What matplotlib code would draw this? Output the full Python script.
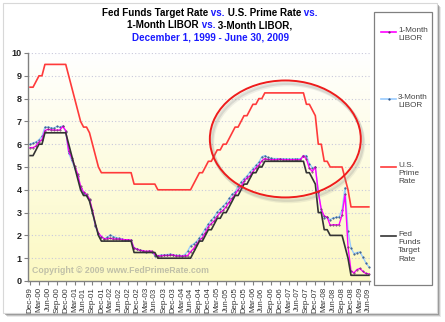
import numpy as np
import matplotlib
matplotlib.use("Agg")
from matplotlib import pyplot as plt
from matplotlib.patches import Ellipse, Rectangle
from matplotlib.lines import Line2D

plt.rcParams['font.family'] = ['Liberation Sans', 'DejaVu Sans']

# monthly, Dec-99 .. Jun-09
months = []
for yr in range(1999, 2010):
    for m in ['Jan', 'Feb', 'Mar', 'Apr', 'May', 'Jun', 'Jul', 'Aug', 'Sep', 'Oct', 'Nov', 'Dec']:
        months.append(m + '-' + str(yr)[2:])
months = months[11:11 + 115]
tick_labels = months[::3]

fed_funds = [
    5.5, 5.5, 5.75, 6.0, 6.0, 6.5, 6.5, 6.5, 6.5, 6.5, 6.5, 6.5, 6.5,
    6.0, 5.5, 5.0, 4.5, 4.0, 3.75, 3.75, 3.5, 3.0, 2.5, 2.0, 1.75,
    1.75, 1.75, 1.75, 1.75, 1.75, 1.75, 1.75, 1.75, 1.75, 1.75, 1.25, 1.25,
    1.25, 1.25, 1.25, 1.25, 1.25, 1.25, 1.0, 1.0, 1.0, 1.0, 1.0, 1.0,
    1.0, 1.0, 1.0, 1.0, 1.0, 1.0, 1.25, 1.5, 1.75, 1.75, 2.0, 2.25,
    2.25, 2.5, 2.75, 2.75, 3.0, 3.0, 3.25, 3.5, 3.75, 3.75, 4.0, 4.25,
    4.25, 4.5, 4.75, 4.75, 5.0, 5.0, 5.25, 5.25, 5.25, 5.25, 5.25, 5.25,
    5.25, 5.25, 5.25, 5.25, 5.25, 5.25, 5.25, 5.25, 4.75, 4.75, 4.5, 4.25,
    3.0, 3.0, 2.25, 2.25, 2.0, 2.0, 2.0, 2.0, 2.0, 1.5, 1.0, 0.25,
    0.25, 0.25, 0.25, 0.25, 0.25, 0.25,
]
prime_rate = [v + 3.0 for v in fed_funds]

libor_1m = [
    5.85, 5.85, 5.92, 6.1, 6.2, 6.6, 6.65, 6.63, 6.62, 6.62, 6.62, 6.78, 6.6,
    5.7, 5.4, 5.05, 4.7, 4.15, 3.9, 3.8, 3.6, 3.1, 2.45, 2.1, 1.95,
    1.85, 1.85, 1.88, 1.84, 1.84, 1.84, 1.82, 1.81, 1.81, 1.79, 1.43, 1.40,
    1.34, 1.33, 1.30, 1.31, 1.31, 1.16, 1.10, 1.10, 1.12, 1.12, 1.12, 1.15,
    1.10, 1.10, 1.09, 1.10, 1.11, 1.28, 1.42, 1.60, 1.78, 1.90, 2.12, 2.38,
    2.52, 2.64, 2.84, 3.01, 3.10, 3.26, 3.45, 3.63, 3.80, 4.00, 4.15, 4.37,
    4.52, 4.61, 4.80, 4.96, 5.08, 5.27, 5.37, 5.33, 5.32, 5.32, 5.32, 5.35,
    5.32, 5.32, 5.32, 5.32, 5.32, 5.32, 5.32, 5.50, 5.35, 4.95, 4.80, 5.00,
    3.90, 3.14, 2.85, 2.80, 2.44, 2.47, 2.46, 2.47, 2.90, 3.80, 1.50, 0.45,
    0.35, 0.50, 0.55, 0.42, 0.33, 0.31,
]
libor_3m = [
    6.0, 6.05, 6.1, 6.2, 6.35, 6.75, 6.75, 6.72, 6.7, 6.78, 6.75, 6.8, 6.55,
    5.6, 5.3, 4.95, 4.6, 4.1, 3.85, 3.75, 3.55, 3.0, 2.4, 2.05, 1.95,
    1.85, 1.92, 2.02, 1.95, 1.90, 1.87, 1.84, 1.80, 1.80, 1.78, 1.45, 1.40,
    1.35, 1.33, 1.28, 1.30, 1.28, 1.10, 1.11, 1.14, 1.14, 1.16, 1.17, 1.16,
    1.12, 1.12, 1.11, 1.15, 1.30, 1.55, 1.62, 1.73, 1.90, 2.08, 2.30, 2.50,
    2.66, 2.82, 3.02, 3.15, 3.28, 3.43, 3.62, 3.80, 3.90, 4.16, 4.33, 4.49,
    4.60, 4.78, 4.92, 5.07, 5.21, 5.45, 5.50, 5.42, 5.38, 5.37, 5.37, 5.36,
    5.36, 5.36, 5.35, 5.35, 5.36, 5.36, 5.36, 5.50, 5.50, 5.15, 4.96, 5.00,
    3.90, 3.09, 2.78, 2.79, 2.69, 2.77, 2.79, 2.81, 3.12, 4.10, 2.20, 1.45,
    1.20, 1.25, 1.27, 1.05, 0.80, 0.62,
]

W, H = 445, 322
fig = plt.figure(figsize=(W / 100, H / 100), dpi=100)
fig.patch.set_facecolor('white')


def fx(x):
    return x / W


def fy(y):
    return 1 - y / H


# page panel with a soft drop shadow (behind the axes)
for off, a in [(4, 0.15), (3, 0.3), (2, 0.5)]:
    fig.add_artist(Rectangle((fx(3 + off), fy(313 + off)), fx(434), 310 / H,
                             transform=fig.transFigure, facecolor='#707070',
                             edgecolor='none', alpha=a, zorder=-10))
fig.add_artist(Rectangle((fx(3), fy(313)), fx(434), 310 / H, transform=fig.transFigure,
                         facecolor='white', edgecolor='#d8d8d8', lw=0.8, zorder=-9))

ax = fig.add_axes([fx(28), fy(281), fx(342), 228 / H])
ax.set_facecolor('none')
x = np.arange(len(fed_funds))

# white-to-yellow background
grad = np.linspace(0, 1, 256)[:, None]
top = np.array([1.0, 1.0, 1.0])
bot = np.array([0xfc, 0xf9, 0xc2]) / 255
img = top + (bot - top) * grad[..., None]
ax.imshow(img, extent=[-0.7, 114.4, 0, 10], aspect='auto', origin='upper', zorder=0)

for g in range(1, 11):
    ax.axhline(g, color='#c9c9dc', lw=0.8, ls=(0, (1, 2)), zorder=1)

ax.plot(x, libor_3m, color='#99ccff', lw=1.0, marker='.', ms=1.0,
        mfc='#2a4a7a', mec='#2a4a7a', zorder=3)
ax.plot(x, libor_1m, color='#ff00ff', lw=1.0, marker='.', ms=0.8,
        mfc='#5a2a5a', mec='#5a2a5a', zorder=4)
ax.plot(x, prime_rate, color='#ff3a3a', lw=1.2, zorder=5)
ax.plot(x, fed_funds, color='#333333', lw=1.2, zorder=6)

# highlight ring around the 2004-2007 rate hikes
for dx, dy, a in [(0.9, -0.18, 0.12), (0.6, -0.12, 0.2)]:
    ax.add_patch(Ellipse((85.9 + dx, 6.23 + dy), 50.8, 5.13, fill=False,
                         edgecolor='#808080', lw=2.5, alpha=a, zorder=7, clip_on=False))
ax.add_patch(Ellipse((85.9, 6.23), 50.8, 5.13, fill=False, edgecolor='#ee1c1c',
                     lw=1.4, zorder=8, clip_on=False))

ax.text(0.8, 0.35, 'Copyright \u00a9 2009 www.FedPrimeRate.com', fontsize=6.3,
        fontweight='bold', color='#c0c0a8', zorder=2)

ax.set_xlim(-0.7, 114.4)
ax.set_ylim(0, 10)
ax.set_yticks(range(11))
ax.set_yticklabels([str(v) for v in range(11)], fontsize=6.5, fontweight='bold', color='#222222')
ax.set_xticks(x[::3])
ax.set_xticklabels(tick_labels, rotation=90, fontsize=5.8, color='#333333')
ax.tick_params(axis='both', length=3, width=0.8, color='#808080', pad=1.5)
for s in ['top', 'right']:
    ax.spines[s].set_visible(False)
for s in ['left', 'bottom']:
    ax.spines[s].set_color('#808080')
    ax.spines[s].set_linewidth(1.0)

# title with blue "vs." pieces
blue = '#1a1aff'
title_lines = [
    (13, [('Fed Funds Target Rate', 'black'), (' vs.', blue), (' U.S. Prime Rate', 'black'), (' vs.', blue)]),
    (25, [('1-Month LIBOR', 'black'), (' vs.', blue), (' 3-Month LIBOR,', 'black')]),
    (37, [('December 1, 1999 - June 30, 2009', blue)]),
]
renderer = fig.canvas.get_renderer()
for yy, parts in title_lines:
    texts = [fig.text(0, fy(yy), s, color=c, fontsize=7.1, fontweight='bold', va='center')
             for s, c in parts]
    widths = [t.get_window_extent(renderer).width for t in texts]
    x0 = 210 - sum(widths) / 2
    for t, w in zip(texts, widths):
        t.set_x(fx(x0))
        x0 += w

# legend box
fig.add_artist(Rectangle((fx(374), fy(285)), fx(58), 273 / H, transform=fig.transFigure,
                         facecolor='white', edgecolor='#808080', lw=0.9))
legend_items = [
    (32, '1-Month\nLIBOR', '#ff00ff', '#5a2a5a'),
    (99, '3-Month\nLIBOR', '#99ccff', '#2a4a7a'),
    (167, 'U.S.\nPrime\nRate', '#ff3a3a', None),
    (236, 'Fed\nFunds\nTarget\nRate', '#333333', None),
]
for yy, label, col, mcol in legend_items:
    fig.add_artist(Line2D([fx(381), fx(396)], [fy(yy), fy(yy)], transform=fig.transFigure,
                          color=col, lw=1.2))
    if mcol:
        fig.add_artist(Line2D([fx(388.5)], [fy(yy)], transform=fig.transFigure,
                              marker='.', ms=1.2, color=mcol, lw=0))
    fig.text(fx(398), fy(yy - 5), label, fontsize=5.9, color='#444444', va='top',
             linespacing=1.25)

fig.savefig('out.png', dpi=100)
